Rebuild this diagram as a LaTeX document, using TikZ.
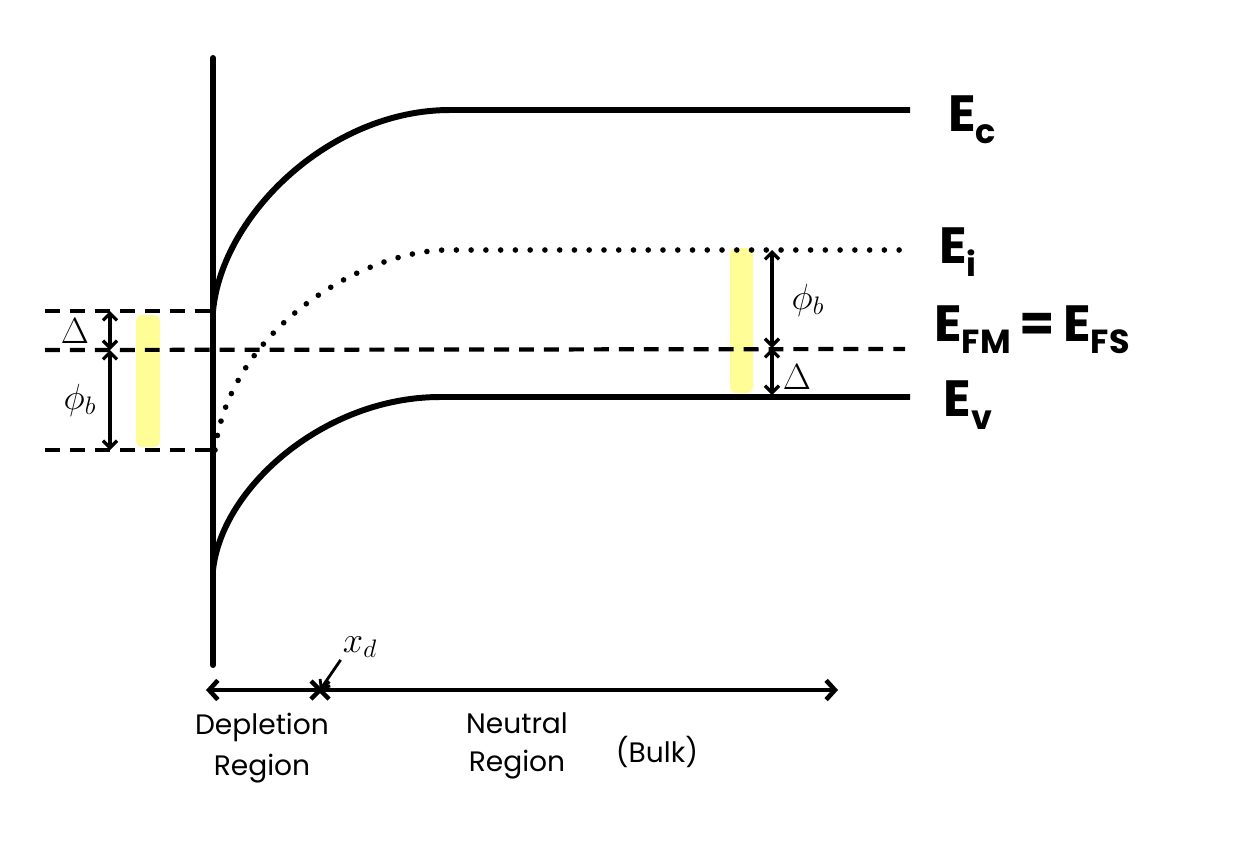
\documentclass[tikz,border=0pt]{standalone}
\usepackage{fontspec}
\setmainfont{Poppins}
\usetikzlibrary{arrows.meta}
\definecolor{hl}{RGB}{255,253,150}
\newcommand{\Elev}[1]{E\raisebox{-7pt}{\fontsize{19}{19}\selectfont #1}}
\begin{document}
\begin{tikzpicture}[x=0.02cm,y=-0.02cm,
  band/.style={line width=3.4pt},
  lvl/.style={line width=2.4pt, dash pattern=on 8.5pt off 5.7pt},
  dotl/.style={line width=3.2pt, line cap=round, dash pattern=on 0pt off 8.4pt},
  gap/.style={line width=1.9pt, {Straight Barb[length=4pt,width=8pt]}-{Straight Barb[length=4pt,width=8pt]}},
  hlbar/.style={fill=hl, rounded corners=3.5pt, draw=none},
  elab/.style={font=\fontsize{29}{30}\selectfont\bfseries, inner sep=0pt},
  gl/.style={font=\fontsize{20}{20}\selectfont, inner sep=0pt},
  txt/.style={font=\fontsize{16}{16}\selectfont, inner sep=0pt},
]
\useasboundingbox (0,0) rectangle (1242,856);
% highlight bars
\fill[hlbar] (136,315) rectangle (160,447);
\fill[hlbar] (730,248) rectangle (753,393);
% coordinates
\coordinate (top) at (213,58);
\coordinate (bot) at (213,665);
\coordinate (c0) at (213,311);
\coordinate (c1) at (450,110);
\coordinate (c2) at (910,110);
\coordinate (i0) at (215,450);
\coordinate (i1) at (445,250);
\coordinate (i2) at (910,250);
\coordinate (v0) at (213,570);
\coordinate (v1) at (440,397);
\coordinate (v2) at (910,397);
\coordinate (dA0) at (45,311);
\coordinate (dB0) at (45,350);
\coordinate (dB1) at (905,349);
\coordinate (dC0) at (45,450);
\coordinate (dC1) at (213,450);
\coordinate (la) at (110,311);
\coordinate (lb) at (110,350);
\coordinate (lc) at (110,450);
\coordinate (ra) at (772,250);
\coordinate (rb) at (772,348);
\coordinate (rc) at (772,395);
\coordinate (ax0) at (206,690);
\coordinate (ax1) at (838,690);
\coordinate (xc) at (320,690);
% axis
\draw[band, line cap=round] (top) -- (bot);
% bands
\draw[band] (c0) .. controls (222,215) and (330,110) .. (c1) -- (c2);
\draw[band] (v0) .. controls (222,487) and (325,397) .. (v1) -- (v2);
\draw[dotl] (i0) .. controls (230,330) and (360,252) .. (i1) -- (i2);
% dashed levels
\draw[lvl] (dA0) -- (c0);
\draw[lvl] (dB0) -- (dB1);
\draw[lvl] (dC0) -- (dC1);
% gap arrows
\draw[gap] (la) -- (lb);
\draw[gap] (lb) -- (lc);
\draw[gap] (ra) -- (rb);
\draw[gap] (rb) -- (rc);
% gap labels
\node[gl] (dl) at (75,331) {$\Delta$};
\node[gl] (pl) at (80,400) {$\phi_b$};
\node[gl] (pr) at (808,300) {$\phi_b$};
\node[gl] (dr) at (797,377) {$\Delta$};
% level labels
\node[elab] (Ec) at (972,120) {\Elev{c}};
\node[elab] (Ei) at (958,252) {\Elev{i}};
\node[elab] (Ef) at (1032,330) {\Elev{FM}\,=\,\Elev{FS}};
\node[elab] (Ev) at (968,405) {\Elev{v}};
% position axis
\draw[line width=2.6pt, {Straight Barb[length=5pt,width=11pt]}-{Straight Barb[length=5pt,width=11pt]}] (ax0) -- (ax1);
\draw[line width=2.6pt] (xc) ++(-9,-9) -- ++(18,18);
\draw[line width=2.6pt] (xc) ++(-9,9) -- ++(18,-18);
\node[gl] (xd) at (360,647) {$x_d$};
\draw[line width=1.6pt, -{Straight Barb[length=4pt,width=7pt]}] (xd.south west) ++(-2,2) -- (xc);
% region labels
\node[txt, align=center] (dep) at (262,748) {Depletion\\[6pt]Region};
\node[txt, align=center] (neu) at (517,746) {Neutral\\[6pt]Region};
\node[txt] (bulk) at (657,752) {(Bulk)};
\end{tikzpicture}
\end{document}
